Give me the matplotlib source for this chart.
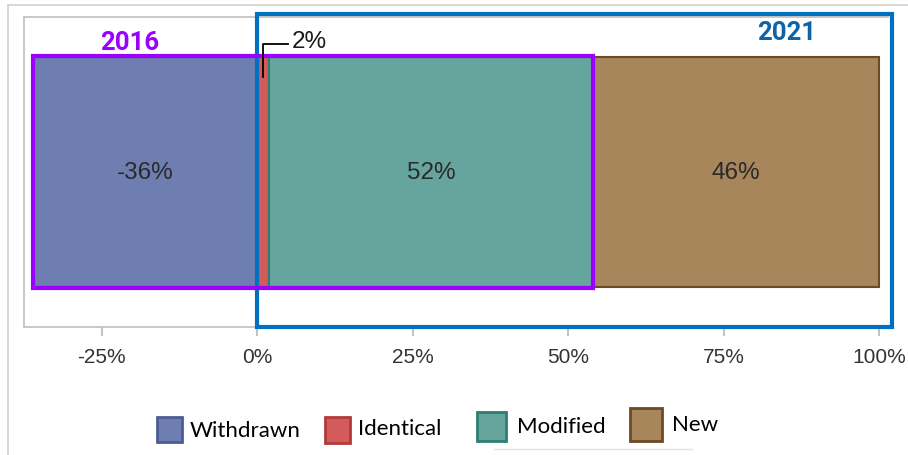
import matplotlib
matplotlib.use("Agg")
import matplotlib.pyplot as plt
from matplotlib.patches import Rectangle
from matplotlib.lines import Line2D
from matplotlib.ticker import FuncFormatter

# share of items per category, 2016 -> 2021
categories = ["Withdrawn", "Identical", "Modified", "New"]
values = [-36, 2, 52, 46]
colors = ["#6f7eb0", "#d35b5b", "#66a59e", "#a8865c"]
edges = ["#4d5c96", "#b23a3a", "#2f7d71", "#6b4a24"]
ticks = [-25, 0, 25, 50, 75, 100]

W, H = 908, 456
fig = plt.figure(figsize=(W / 100, H / 100), dpi=100)

# axes placed in pixel terms: 0% at x=257, 6.22 px per percent
x0_px, px_per = 257, 6.22
xmin, xmax = -37.5, 101.5
left_px = x0_px + xmin * px_per
right_px = x0_px + xmax * px_per
ax = fig.add_axes([left_px / W, 1 - 328 / H, (right_px - left_px) / W, 310 / H])
ax.set_xlim(xmin, xmax)
ax.set_ylim(-0.5, 0.5)

# stacked bar: withdrawn goes left of zero, the rest stack from zero
bar_h = 0.74
starts = []
pos = 0
for v in values:
    if v < 0:
        starts.append(v)
    else:
        starts.append(pos)
        pos += v
for cat, v, s, c, e in zip(categories, values, starts, colors, edges):
    ax.barh(0, abs(v), left=s, height=bar_h, color=c, edgecolor=e, linewidth=1.5, zorder=2)

# value labels in the middle of the wide segments
for cat, v, s in zip(categories, values, starts):
    if cat == "Identical":
        continue
    ax.text(s + abs(v) / 2, 0, f"{v}%", ha="center", va="center",
            fontsize=17.5, color="#2a2a2a", family="Liberation Sans", zorder=5)

# leader line for the thin identical segment
i_id = categories.index("Identical")
mid = starts[i_id] + values[i_id] / 2
ax.plot([mid, mid, 5], [0.306, 0.413, 0.413], color="black", lw=1.3,
        clip_on=False, zorder=6)
ax.text(5.6, 0.423, f"{values[i_id]}%", ha="left", va="center", fontsize=17.5,
        color="#1a1a1a", family="Liberation Sans", clip_on=False)

# 2016 box: withdrawn + identical + modified
span16 = starts[0]
end16 = starts[categories.index("Modified")] + values[categories.index("Modified")]
ax.add_patch(Rectangle((span16, -bar_h / 2 - 0.003), end16 - span16, bar_h + 0.006,
                       fill=False, edgecolor="#9b00ff", lw=3, zorder=4, clip_on=False))
ax.text(-20.5, 0.42, "2016", ha="center", va="center", fontsize=18.5,
        fontweight="bold", color="#9b00ff", family="Roboto")

# 2021 box: identical + modified + new
ax.add_patch(Rectangle((0, -0.5), 102.1, 1.01, fill=False, edgecolor="#0070c0",
                       lw=3, zorder=3, clip_on=False))
ax.text(85.2, 0.45, "2021", ha="center", va="center", fontsize=18.5,
        fontweight="bold", color="#0e62a8", family="Roboto")

# axes frame and ticks
for side in ["left", "top", "bottom"]:
    ax.spines[side].set_color("#c4c4c4")
    ax.spines[side].set_linewidth(1.3)
ax.spines["right"].set_visible(False)
ax.set_yticks([])
ax.set_xticks(ticks)
ax.xaxis.set_major_formatter(FuncFormatter(lambda v, p: f"{v:.0f}%"))
ax.tick_params(axis="x", length=6.5, width=1.5, color="#c4c4c4", pad=8,
               labelsize=15, labelcolor="#333333")
for lab in ax.get_xticklabels():
    lab.set_family("Liberation Sans")

# outer panel border lines
fig.add_artist(Line2D([8 / W, 1], [1 - 6 / H, 1 - 6 / H], color="#d6d6d6", lw=1.3))
fig.add_artist(Line2D([8 / W, 8 / W], [0, 1 - 6 / H], color="#d6d6d6", lw=1.3))
fig.add_artist(Line2D([494 / W, 692 / W], [1 - 450 / H, 1 - 450 / H], color="#e4e4e4", lw=1))

# legend, laid out by hand
leg_boxes = [(157, 418, 25, 25), (325, 418, 25, 26), (477, 413, 29, 29), (630, 409, 32, 33)]
leg_text = [(190, 431), (358, 429), (517, 427), (672, 425)]
for cat, c, e, (bx, by, bw, bh), (tx, ty) in zip(categories, colors, edges, leg_boxes, leg_text):
    fig.add_artist(Rectangle((bx / W, 1 - (by + bh) / H), bw / W, bh / H,
                             facecolor=c, edgecolor=e, lw=2, transform=fig.transFigure))
    fig.text(tx / W, 1 - ty / H, cat, ha="left", va="center", fontsize=16,
             color="black", family="Lato")

fig.savefig("out.png", dpi=100)
